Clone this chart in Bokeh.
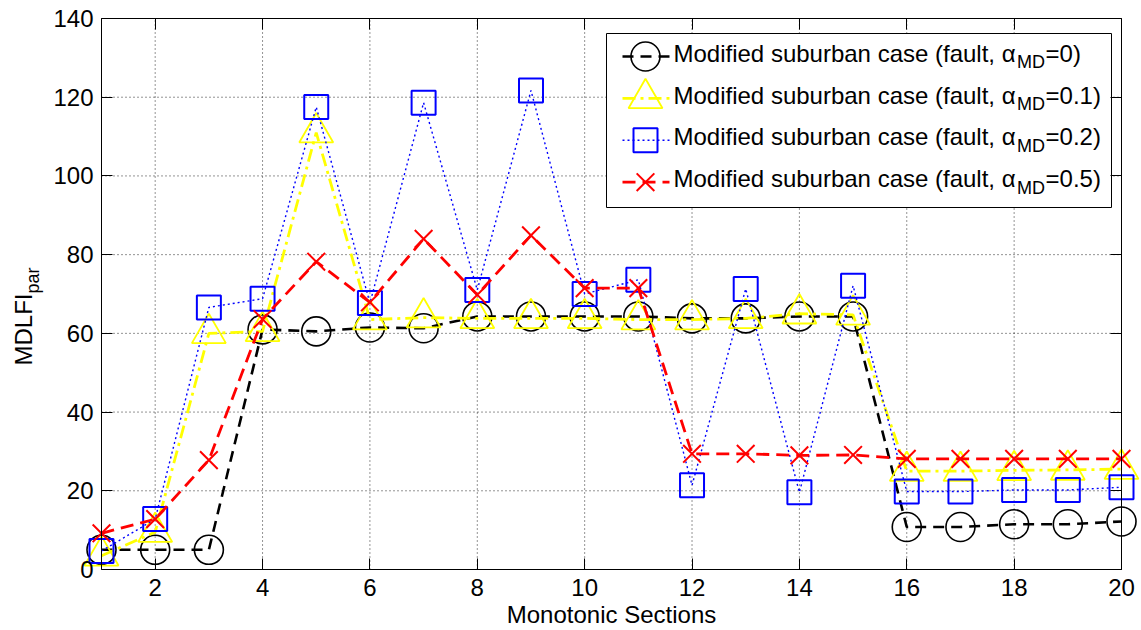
import numpy as np
from bokeh.plotting import figure
from bokeh.models import Range1d, LinearAxis, FixedTicker
from bokeh.embed import file_html
from bokeh.resources import INLINE
from bokeh.core.properties import value

# ---------------- data ----------------
sections = list(range(1, 21))
alpha_0 = [5.0, 5.0, 5.0, 61.0, 60.5, 61.5, 61.3, 64.3, 64.3, 64.3,
           64.3, 63.8, 63.8, 64.3, 64.3, 10.8, 10.8, 11.5, 11.5, 12.2]
alpha_01 = [3.5, 9.5, 60.0, 60.5, 111.0, 63.5, 64.0, 63.8, 63.8, 63.8,
            63.5, 63.5, 63.8, 65.0, 64.7, 25.0, 25.0, 25.2, 25.3, 25.5]
alpha_02 = [4.7, 12.8, 66.6, 68.8, 117.5, 67.7, 118.6, 71.0, 121.7, 70.0,
            73.6, 21.4, 71.3, 19.6, 72.1, 19.8, 19.8, 20.2, 20.2, 20.9]
alpha_05 = [9.2, 12.8, 27.8, 63.6, 78.2, 67.9, 84.0, 69.8, 84.9, 71.5,
            71.5, 29.4, 29.4, 29.0, 29.1, 28.1, 28.1, 28.1, 28.1, 28.1]
x_ticks = [2, 4, 6, 8, 10, 12, 14, 16, 18, 20]
y_ticks = [0, 20, 40, 60, 80, 100, 120, 140]
x_label = "Monotonic Sections"
y_label_main = "MDLFI"
y_label_sub = "par"
legend_prefix = "Modified suburban case (fault, "
legend_greek = "\u03b1"
legend_sub = "MD"
legend_values = ["0", "0.1", "0.2", "0.5"]

# ---------------- layout ----------------
W, H = 1141, 630
FL, FR, FT, FB = 101, 1121, 18, 569          # axes box in page pixels
XMIN, XMAX, YMIN, YMAX = 1, 20, 0, 140      # axes limits
FONT = "Liberation Sans"
FS = 24
SUB_FS = 18
MID = 0.35          # cap-centre above baseline, in em


def dx(px):
    return XMIN + (px - FL) * (XMAX - XMIN) / (FR - FL)


def dy(py):
    return YMIN + (FB - py) * (YMAX - YMIN) / (FB - FT)


AW = {' ': 278, 'M': 833, 'o': 556, 'd': 556, 'i': 222, 'f': 278, 'e': 556,
      's': 500, 'u': 556, 'b': 556, 'r': 333, 'a': 556, 'n': 556, 'c': 500,
      '(': 333, 'l': 222, 't': 278, ',': 278, '=': 584, '0': 556, '1': 556,
      '2': 556, '5': 556, '.': 278, ')': 333, 'D': 722, 'L': 556, 'F': 611,
      'I': 278, 'p': 556, '\u03b1': 578}


def tw(s, size):
    return sum(AW.get(c, 556) for c in s) / 1000.0 * size


# the frame covers the whole canvas; the axes are placed at fixed data locations
p = figure(width=W, height=H,
           x_range=Range1d(dx(0), dx(W)), y_range=Range1d(dy(H), dy(0)),
           x_axis_type=None, y_axis_type=None,
           output_backend="svg", toolbar_location=None,
           min_border=0, min_border_left=0, min_border_right=0,
           min_border_top=0, min_border_bottom=0,
           background_fill_color="white", border_fill_color="white")
p.outline_line_color = None

bottom_axis = LinearAxis(fixed_location=YMIN, bounds=(XMIN, XMAX))
top_axis = LinearAxis(fixed_location=YMAX, bounds=(XMIN, XMAX))
left_axis = LinearAxis(fixed_location=XMIN, bounds=(YMIN, YMAX))
right_axis = LinearAxis(fixed_location=XMAX, bounds=(YMIN, YMAX))
p.add_layout(bottom_axis, "below")
p.add_layout(top_axis, "above")
p.add_layout(left_axis, "left")
p.add_layout(right_axis, "right")

# dotted grid inside the axes box
p.segment(x0=x_ticks, x1=x_ticks, y0=[YMIN] * len(x_ticks), y1=[YMAX] * len(x_ticks),
          line_color="black", line_width=1, line_dash="1 3", line_alpha=0.85)
p.segment(x0=[XMIN] * len(y_ticks), x1=[XMAX] * len(y_ticks), y0=y_ticks, y1=y_ticks,
          line_color="black", line_width=1, line_dash="1 3", line_alpha=0.85)

for ax, ticks in [(bottom_axis, x_ticks), (top_axis, x_ticks),
                  (left_axis, y_ticks), (right_axis, y_ticks)]:
    ax.ticker = FixedTicker(ticks=ticks)
    ax.axis_line_color = "black"
    ax.axis_line_width = 1
    ax.major_tick_line_color = "black"
    ax.major_tick_line_width = 1
    ax.major_tick_in = 11
    ax.major_tick_out = 0
    ax.minor_tick_in = 0
    ax.minor_tick_out = 0
    ax.minor_tick_line_color = None
    ax.major_label_text_font = FONT
    ax.major_label_text_font_size = f"{FS}px"
    ax.major_label_text_color = "black"

for ax in (top_axis, right_axis):
    ax.major_label_text_font_size = "1px"
    ax.major_label_text_color = None
    ax.major_label_text_alpha = 0
    ax.major_label_standoff = 0
bottom_axis.major_label_standoff = 9
left_axis.major_label_standoff = 8

series = [
    dict(y=alpha_0, color="#000000", dash="11 7", lw=2.6, marker="circle", size=29, mlw=1.6),
    dict(y=alpha_01, color="#FFFF00", dash="13 5 3 5", lw=2.8, marker="triangle", size=34, mlw=1.8),
    dict(y=alpha_02, color="#0000FF", dash="2 3", lw=1.4, marker="square", size=24, mlw=2.0),
    dict(y=alpha_05, color="#FF0000", dash="13 7", lw=2.8, marker="x", size=25, mlw=2.0),
]

for s in series:
    p.line(sections, s["y"], line_color=s["color"], line_width=s["lw"], line_dash=s["dash"])
    p.scatter(sections, s["y"], marker=s["marker"], size=s["size"], fill_color=None,
              line_color=s["color"], line_width=s["mlw"])


def put_text(px, baseline_py, txt, size, align="left"):
    """place text whose alphabetic baseline lies at the given page position"""
    p.text([dx(px)], [dy(baseline_py - MID * size)], text=[txt], text_font=value(FONT),
           text_font_size=f"{size}px", text_color="black",
           text_baseline="middle", text_align=align)


# ---------------- legend (drawn by hand for the subscripts) ----------------
LEG_L, LEG_R, LEG_T, LEG_B = 606, 1111, 33, 207
p.quad(left=[dx(LEG_L)], right=[dx(LEG_R)], top=[dy(LEG_T)], bottom=[dy(LEG_B)],
       fill_color="white", line_color="black", line_width=1)

ROW0, ROW_DY = 56.0, 41.9
SAMPLE_L, SAMPLE_R, SAMPLE_C = 622, 669, 645
TEXT_X = 673
for i, s in enumerate(series):
    cy = ROW0 + i * ROW_DY
    p.line([dx(SAMPLE_L), dx(SAMPLE_R)], [dy(cy), dy(cy)], line_color=s["color"],
           line_width=s["lw"], line_dash=s["dash"])
    p.scatter([dx(SAMPLE_C)], [dy(cy)], marker=s["marker"], size=s["size"], fill_color=None,
              line_color=s["color"], line_width=s["mlw"])
    base = cy + 5.0
    t1 = legend_prefix + legend_greek
    put_text(TEXT_X, base, t1, FS)
    x2 = TEXT_X + tw(t1, FS) + 1.5
    put_text(x2, base + 7, legend_sub, SUB_FS)
    x3 = x2 + tw(legend_sub, SUB_FS) + 0.5
    put_text(x3, base, "=" + legend_values[i] + ")", FS)

# ---------------- axis titles ----------------
YL_BASE_X, YL_START_Y = 31.5, 365
p.text([dx(YL_BASE_X - MID * FS)], [dy(YL_START_Y)], text=[y_label_main], angle=np.pi / 2,
       text_font=value(FONT), text_font_size=f"{FS}px", text_color="black",
       text_baseline="middle", text_align="left")
p.text([dx(YL_BASE_X + 7 - MID * SUB_FS)], [dy(YL_START_Y - tw(y_label_main, FS))],
       text=[y_label_sub], angle=np.pi / 2,
       text_font=value(FONT), text_font_size=f"{SUB_FS}px", text_color="black",
       text_baseline="middle", text_align="left")
put_text((FL + FR) / 2, 622, x_label, FS, align="center")

open("out.html", "w").write(file_html(p, INLINE))
